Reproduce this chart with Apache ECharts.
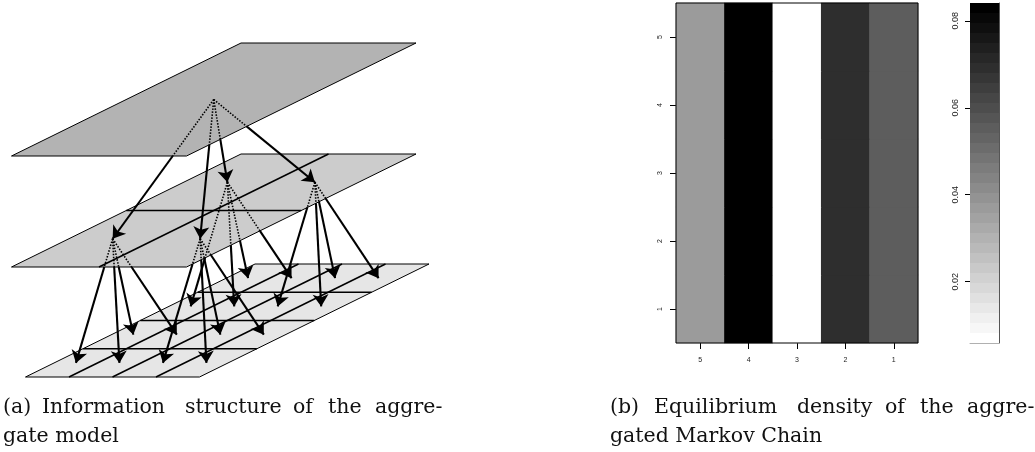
<!DOCTYPE html>
<html><head><meta charset="utf-8">
<script src="https://cdn.jsdelivr.net/npm/echarts@6/dist/echarts.min.js"></script>
<style>html,body{margin:0;padding:0;background:#fff}#c{width:1035px;height:452px}</style>
</head><body><div id="c"></div><script>
// ---------------- data ----------------
// (b) equilibrium density heat map
const stateLabels = ['5', '4', '3', '2', '1'];      // x categories, left to right
const rowLabels = ['1', '2', '3', '4', '5'];        // y categories, bottom to top
const densityRow1 = [0.0372, 0.0841, 0.0059, 0.0685, 0.0547];
const densityRow2 = [0.0372, 0.0841, 0.0059, 0.0685, 0.0547];
const densityRow3 = [0.0372, 0.0841, 0.0059, 0.0685, 0.0547];
const densityRow4 = [0.0372, 0.0841, 0.0059, 0.0685, 0.0547];
const densityRow5 = [0.0372, 0.0841, 0.0059, 0.0685, 0.0547];
const densityRows = [densityRow1, densityRow2, densityRow3, densityRow4, densityRow5];
const densityMin = 0.0059;
const densityMax = 0.0841;
const colorSteps = 34;
const colorbarTicks = [0.02, 0.04, 0.06, 0.08];

// (a) information structure: cells per side on each layer, top to bottom
const levelCells = [1, 2, 4];

// captions
const captionA1 = ['(a)', 'Information', 'structure', 'of', 'the', 'aggre-'];
const captionA2 = 'gate model';
const captionB1 = ['(b)', 'Equilibrium', 'density', 'of', 'the', 'aggre-'];
const captionB2 = 'gated Markov Chain';

// ---------------- layout / style ----------------
const layerFill = ['#b3b3b3', '#cccccc', '#e6e6e6'];
const layerOrigin = [[241, 43], [241, 154], [255, 264]];
const layerWidth = [175, 175, 174];
const depthVec = [-229.5, 113];
const captionA1X = [3, 42, 185, 293, 328, 375];
const captionB1X = [610, 654, 797, 885, 920, 967];

function proj(L, u, v) {
  return [layerOrigin[L][0] + u * layerWidth[L] + v * depthVec[0],
          layerOrigin[L][1] + v * depthVec[1]];
}
function toUV(L, p) {
  const v = (p[1] - layerOrigin[L][1]) / depthVec[1];
  const u = (p[0] - layerOrigin[L][0] - v * depthVec[0]) / layerWidth[L];
  return [u, v];
}

// arrows: each cell points to its children on the next layer
const dottedSegs = [], solidSegs = [];
for (let L = 0; L < levelCells.length - 1; L++) {
  const n = levelCells[L], m = levelCells[L + 1], r = m / n;
  for (let i = 0; i < n; i++) for (let j = 0; j < n; j++) {
    const P0 = proj(L, (i + 0.5) / n, (j + 0.5) / n);
    for (let a = 0; a < r; a++) for (let b = 0; b < r; b++) {
      const ci = i * r + a, cj = j * r + b;
      const P1 = proj(L + 1, (ci + 0.5) / m, (cj + 0.5) / m);
      const s = toUV(L, P0), e = toUV(L, P1);
      let tMin = 1;
      for (let k = 0; k < 2; k++) {
        const d = e[k] - s[k];
        if (Math.abs(d) < 1e-9) continue;
        [0, 1].forEach(function (bound) {
          const t = (bound - s[k]) / d;
          if (t > 0 && t < tMin) tMin = t;
        });
      }
      const E = [P0[0] + tMin * (P1[0] - P0[0]), P0[1] + tMin * (P1[1] - P0[1])];
      dottedSegs.push({ coords: [P0, E] });
      solidSegs.push({ coords: [E, P1] });
    }
  }
}

const heatCells = [];
densityRows.forEach(function (row, yi) {
  row.forEach(function (val, xi) { heatCells.push([xi, yi, val]); });
});

const textStyleSerif = { fontFamily: 'DejaVu Serif', fontSize: 20.5, fill: '#111' };
const graphics = [];
captionA1.forEach(function (w, k) {
  graphics.push({ type: 'text', left: captionA1X[k], top: 397, style: Object.assign({ text: w }, textStyleSerif) });
});
graphics.push({ type: 'text', left: 3, top: 426, style: Object.assign({ text: captionA2 }, textStyleSerif) });
captionB1.forEach(function (w, k) {
  graphics.push({ type: 'text', left: captionB1X[k], top: 397, style: Object.assign({ text: w }, textStyleSerif) });
});
graphics.push({ type: 'text', left: 610, top: 426, style: Object.assign({ text: captionB2 }, textStyleSerif) });

const axisFont = 'Liberation Sans';
const chart = echarts.init(document.getElementById('c'), null, { renderer: 'canvas' });
chart.setOption({
  animation: false,
  backgroundColor: '#fff',
  grid: [
    { left: 0, top: 0, width: 440, height: 390 },
    { left: 676, top: 3, width: 242, height: 340, show: true, z: 5, backgroundColor: 'rgba(0,0,0,0)', borderColor: '#000', borderWidth: 1 },
    { left: 970, top: 3, width: 29, height: 340, z: 5 }
  ],
  xAxis: [
    { gridIndex: 0, type: 'value', min: 0, max: 440, show: false },
    { gridIndex: 1, type: 'category', data: stateLabels, position: 'bottom',
      axisLine: { show: false },
      axisTick: { show: true, alignWithLabel: true, length: 6, lineStyle: { color: '#000', width: 1 } },
      axisLabel: { fontSize: 7, color: '#222', fontFamily: axisFont, margin: 14 },
      splitLine: { show: false } },
    { gridIndex: 2, type: 'value', min: 0, max: 1, position: 'bottom', z: 5,
      axisLine: { show: true, lineStyle: { color: '#b0b0b0', width: 1 } },
      axisTick: { show: false }, axisLabel: { show: false }, splitLine: { show: false } }
  ],
  yAxis: [
    { gridIndex: 0, type: 'value', min: 0, max: 390, inverse: true, show: false },
    { gridIndex: 1, type: 'category', data: rowLabels,
      axisLine: { show: false },
      axisTick: { show: true, alignWithLabel: true, length: 6, lineStyle: { color: '#000', width: 1 } },
      axisLabel: { fontSize: 7, color: '#222', fontFamily: axisFont, rotate: 90, margin: 12 },
      splitLine: { show: false } },
    { gridIndex: 2, type: 'value', min: densityMin, max: densityMax, position: 'left',
      axisLine: { show: false },
      axisTick: { show: true, length: 5, customValues: colorbarTicks, lineStyle: { color: '#000', width: 1 } },
      axisLabel: { fontSize: 9, color: '#222', fontFamily: axisFont, rotate: 90, margin: 10,
        customValues: colorbarTicks, formatter: function (v) { return v.toFixed(2); } },
      splitLine: { show: false } },
    { gridIndex: 2, type: 'value', min: densityMin, max: densityMax, position: 'right', z: 5,
      axisLine: { show: true, lineStyle: { color: '#555', width: 1 } },
      axisTick: { show: false }, axisLabel: { show: false }, splitLine: { show: false } }
  ],
  visualMap: [{
    type: 'piecewise', seriesIndex: 3, min: densityMin, max: densityMax,
    splitNumber: colorSteps, orient: 'vertical', left: 970, top: 3,
    itemWidth: 29, itemHeight: 340 / colorSteps, itemGap: 0, itemSymbol: 'rect',
    showLabel: false, padding: 0, hoverLink: false, selectedMode: false,
    inRange: { color: ['#ffffff', '#000000'] }
  }],
  graphic: graphics,
  series: [
    { type: 'custom', coordinateSystem: 'cartesian2d', xAxisIndex: 0, yAxisIndex: 0, z: 1,
      data: levelCells.map(function (n, i) { return [levelCells.length - 1 - i, 0]; }),
      renderItem: function (params, api) {
        const L = levelCells.length - 1 - params.dataIndex;
        const n = levelCells[L];
        const c = function (u, v) { return api.coord(proj(L, u, v)); };
        const children = [{ type: 'polygon', shape: { points: [c(0, 0), c(1, 0), c(1, 1), c(0, 1)] },
          style: { fill: layerFill[L], stroke: '#000', lineWidth: 1 } }];
        for (let k = 1; k < n; k++) {
          const a = c(k / n, 0), b = c(k / n, 1), p = c(0, k / n), q = c(1, k / n);
          children.push({ type: 'line', shape: { x1: a[0], y1: a[1], x2: b[0], y2: b[1] }, style: { stroke: '#000', lineWidth: 1.5 } });
          children.push({ type: 'line', shape: { x1: p[0], y1: p[1], x2: q[0], y2: q[1] }, style: { stroke: '#000', lineWidth: 1.5 } });
        }
        return { type: 'group', children: children };
      } },
    { type: 'lines', coordinateSystem: 'cartesian2d', xAxisIndex: 0, yAxisIndex: 0, z: 3,
      data: dottedSegs, symbol: ['none', 'none'], silent: true,
      lineStyle: { color: '#000', width: 1.6, type: [1.5, 1.5], opacity: 1 } },
    { type: 'lines', coordinateSystem: 'cartesian2d', xAxisIndex: 0, yAxisIndex: 0, z: 4,
      data: solidSegs, symbol: ['none', 'arrow'], symbolSize: 12, silent: true,
      lineStyle: { color: '#000', width: 2.1, opacity: 1 } },
    { type: 'heatmap', xAxisIndex: 1, yAxisIndex: 1, data: heatCells, silent: true,
      emphasis: { disabled: true } }
  ]
});
</script></body></html>
